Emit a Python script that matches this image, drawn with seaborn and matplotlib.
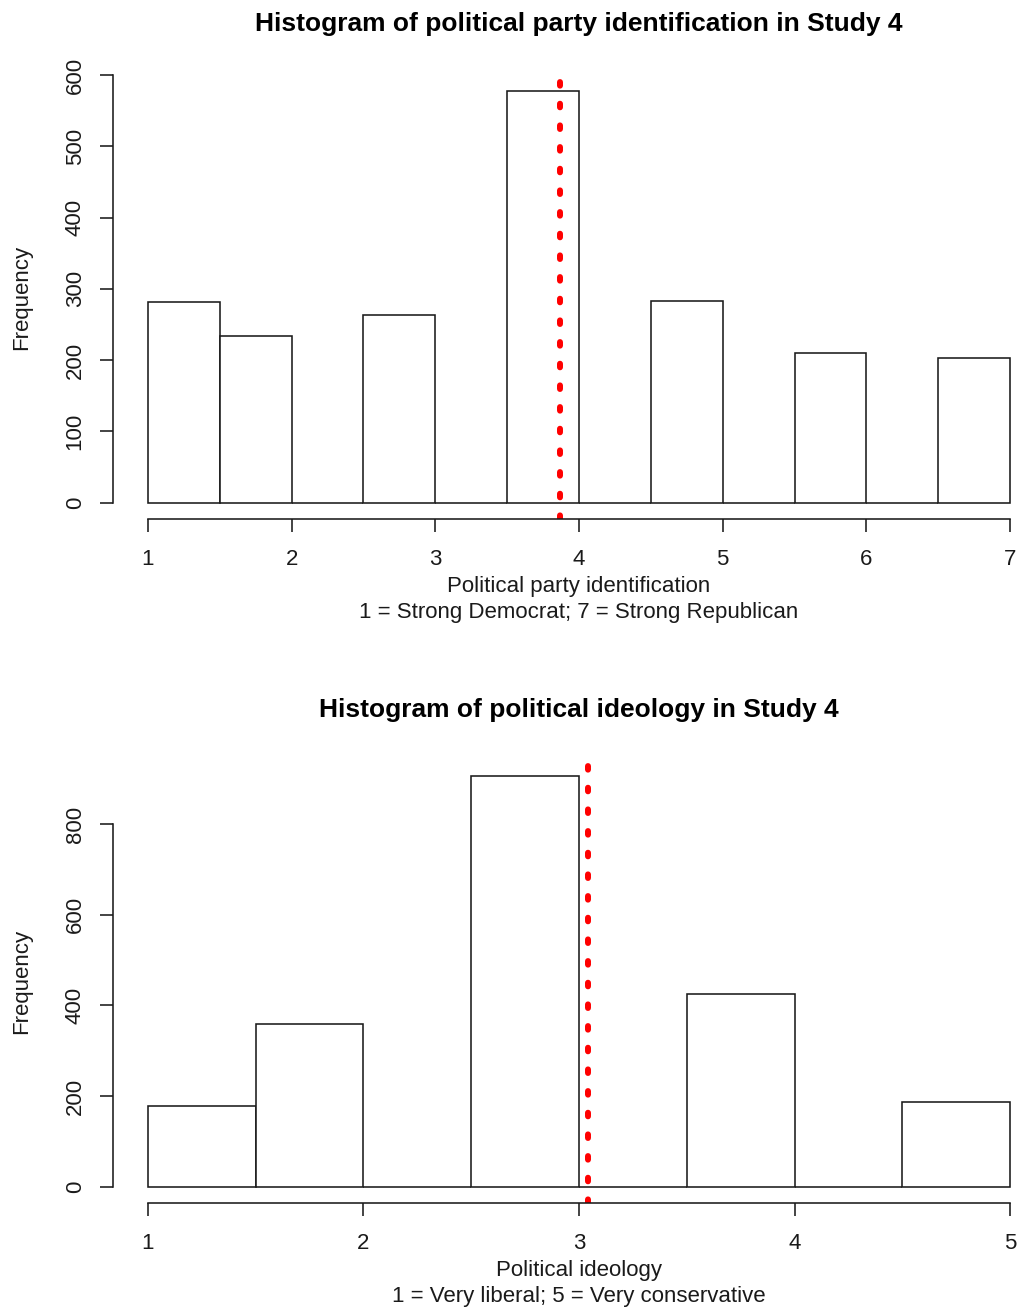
import numpy as np
import pandas as pd
import matplotlib
matplotlib.use("Agg")
import matplotlib.pyplot as plt
import seaborn as sns

# Study 4 histogram counts (R-style right-closed bins of width 0.5)
party_edges = [1.0, 1.5, 2.0, 2.5, 3.0, 3.5, 4.0, 4.5, 5.0, 5.5, 6.0, 6.5, 7.0]
party_counts = [281, 234, 0, 263, 0, 577, 0, 283, 0, 210, 0, 203]
party_mean = 3.871
party_ticks = [1, 2, 3, 4, 5, 6, 7]
party_yticks = [0, 100, 200, 300, 400, 500, 600]

ideo_edges = [1.0, 1.5, 2.0, 2.5, 3.0, 3.5, 4.0, 4.5, 5.0]
ideo_counts = [177, 359, 0, 905, 0, 424, 0, 187]
ideo_mean = 3.041
ideo_ticks = [1, 2, 3, 4, 5]
ideo_yticks = [0, 200, 400, 600, 800]

titles = ["Histogram of political party identification in Study 4",
          "Histogram of political ideology in Study 4"]
xlabels = ["Political party identification\n1 = Strong Democrat; 7 = Strong Republican",
           "Political ideology\n1 = Very liberal; 5 = Very conservative"]

sns.set_theme(style="ticks")
plt.rcParams["font.family"] = ["Liberation Sans", "DejaVu Sans"]
plt.rcParams["lines.scale_dashes"] = False

W, H = 1020, 1311
fig = plt.figure(figsize=(W / 100, H / 100), dpi=100)
fig.patch.set_facecolor("white")

INK = "#1a1a1a"


def px_axes(left, top, right, bottom):
    return fig.add_axes([left / W, 1 - bottom / H, (right - left) / W, (bottom - top) / H])


def draw_panel(ax, edges, counts, mean, xticks, yticks, title, xlabel, top, bottom):
    mids = [(a + b) / 2 for a, b in zip(edges[:-1], edges[1:])]
    df = pd.DataFrame({"value": mids, "n": counts})
    sns.histplot(data=df, x="value", weights="n", bins=list(edges), ax=ax,
                 color="white", edgecolor=INK, linewidth=1.15, alpha=1)
    lo, hi = edges[0], edges[-1]
    ext = 0.04 * (hi - lo)
    ymax = max(counts)
    ax.set_xlim(lo - ext, hi + ext)
    ax.set_ylim(-0.04 * ymax, 1.04 * ymax)
    ax.axvline(mean, color="#ff0000", linewidth=4.3, linestyle=(0, (2.6, 13.0)),
               dash_capstyle="round", solid_capstyle="round")
    ax.set_facecolor("white")
    for s in ["top", "right"]:
        ax.spines[s].set_visible(False)
    for s in ["left", "bottom"]:
        ax.spines[s].set_color(INK)
        ax.spines[s].set_linewidth(1.15)
    ax.spines["left"].set_bounds(yticks[0], yticks[-1])
    ax.spines["bottom"].set_bounds(xticks[0], xticks[-1])
    ax.set_xticks(xticks)
    ax.set_yticks(yticks)
    ax.set_xticklabels([str(t) for t in xticks])
    ax.set_yticklabels([str(t) for t in yticks], rotation=90, va="center")
    ax.tick_params(axis="both", direction="out", length=9.5, width=1.15,
                   color=INK, labelsize=16, labelcolor=INK)
    ax.tick_params(axis="x", pad=12)
    ax.tick_params(axis="y", pad=10.5)
    ax.set_xlabel("")
    ax.set_ylabel("")
    ax.grid(False)
    cx = (113.5 + 1044.5) / 2
    fig.text(cx / W, 1 - (top - 50.5) / H, title, ha="center", va="center",
             fontsize=19, fontweight="bold", color="black")
    fig.text(cx / W, 1 - (bottom + 80) / H, xlabel, ha="center", va="center",
             fontsize=16, linespacing=1.32, color=INK)
    fig.text(22 / W, 1 - ((top + bottom) / 2) / H, "Frequency", ha="center", va="center",
             rotation=90, fontsize=16, color=INK)


ax1 = px_axes(113.5, 74.9, 1044.5, 519.2)
draw_panel(ax1, party_edges, party_counts, party_mean, party_ticks, party_yticks,
           titles[0], xlabels[0], 74.9, 519.2)

ax2 = px_axes(113.5, 760.0, 1044.5, 1203.1)
draw_panel(ax2, ideo_edges, ideo_counts, ideo_mean, ideo_ticks, ideo_yticks,
           titles[1], xlabels[1], 760.0, 1203.1)

fig.savefig("out.png", dpi=100, facecolor="white")
